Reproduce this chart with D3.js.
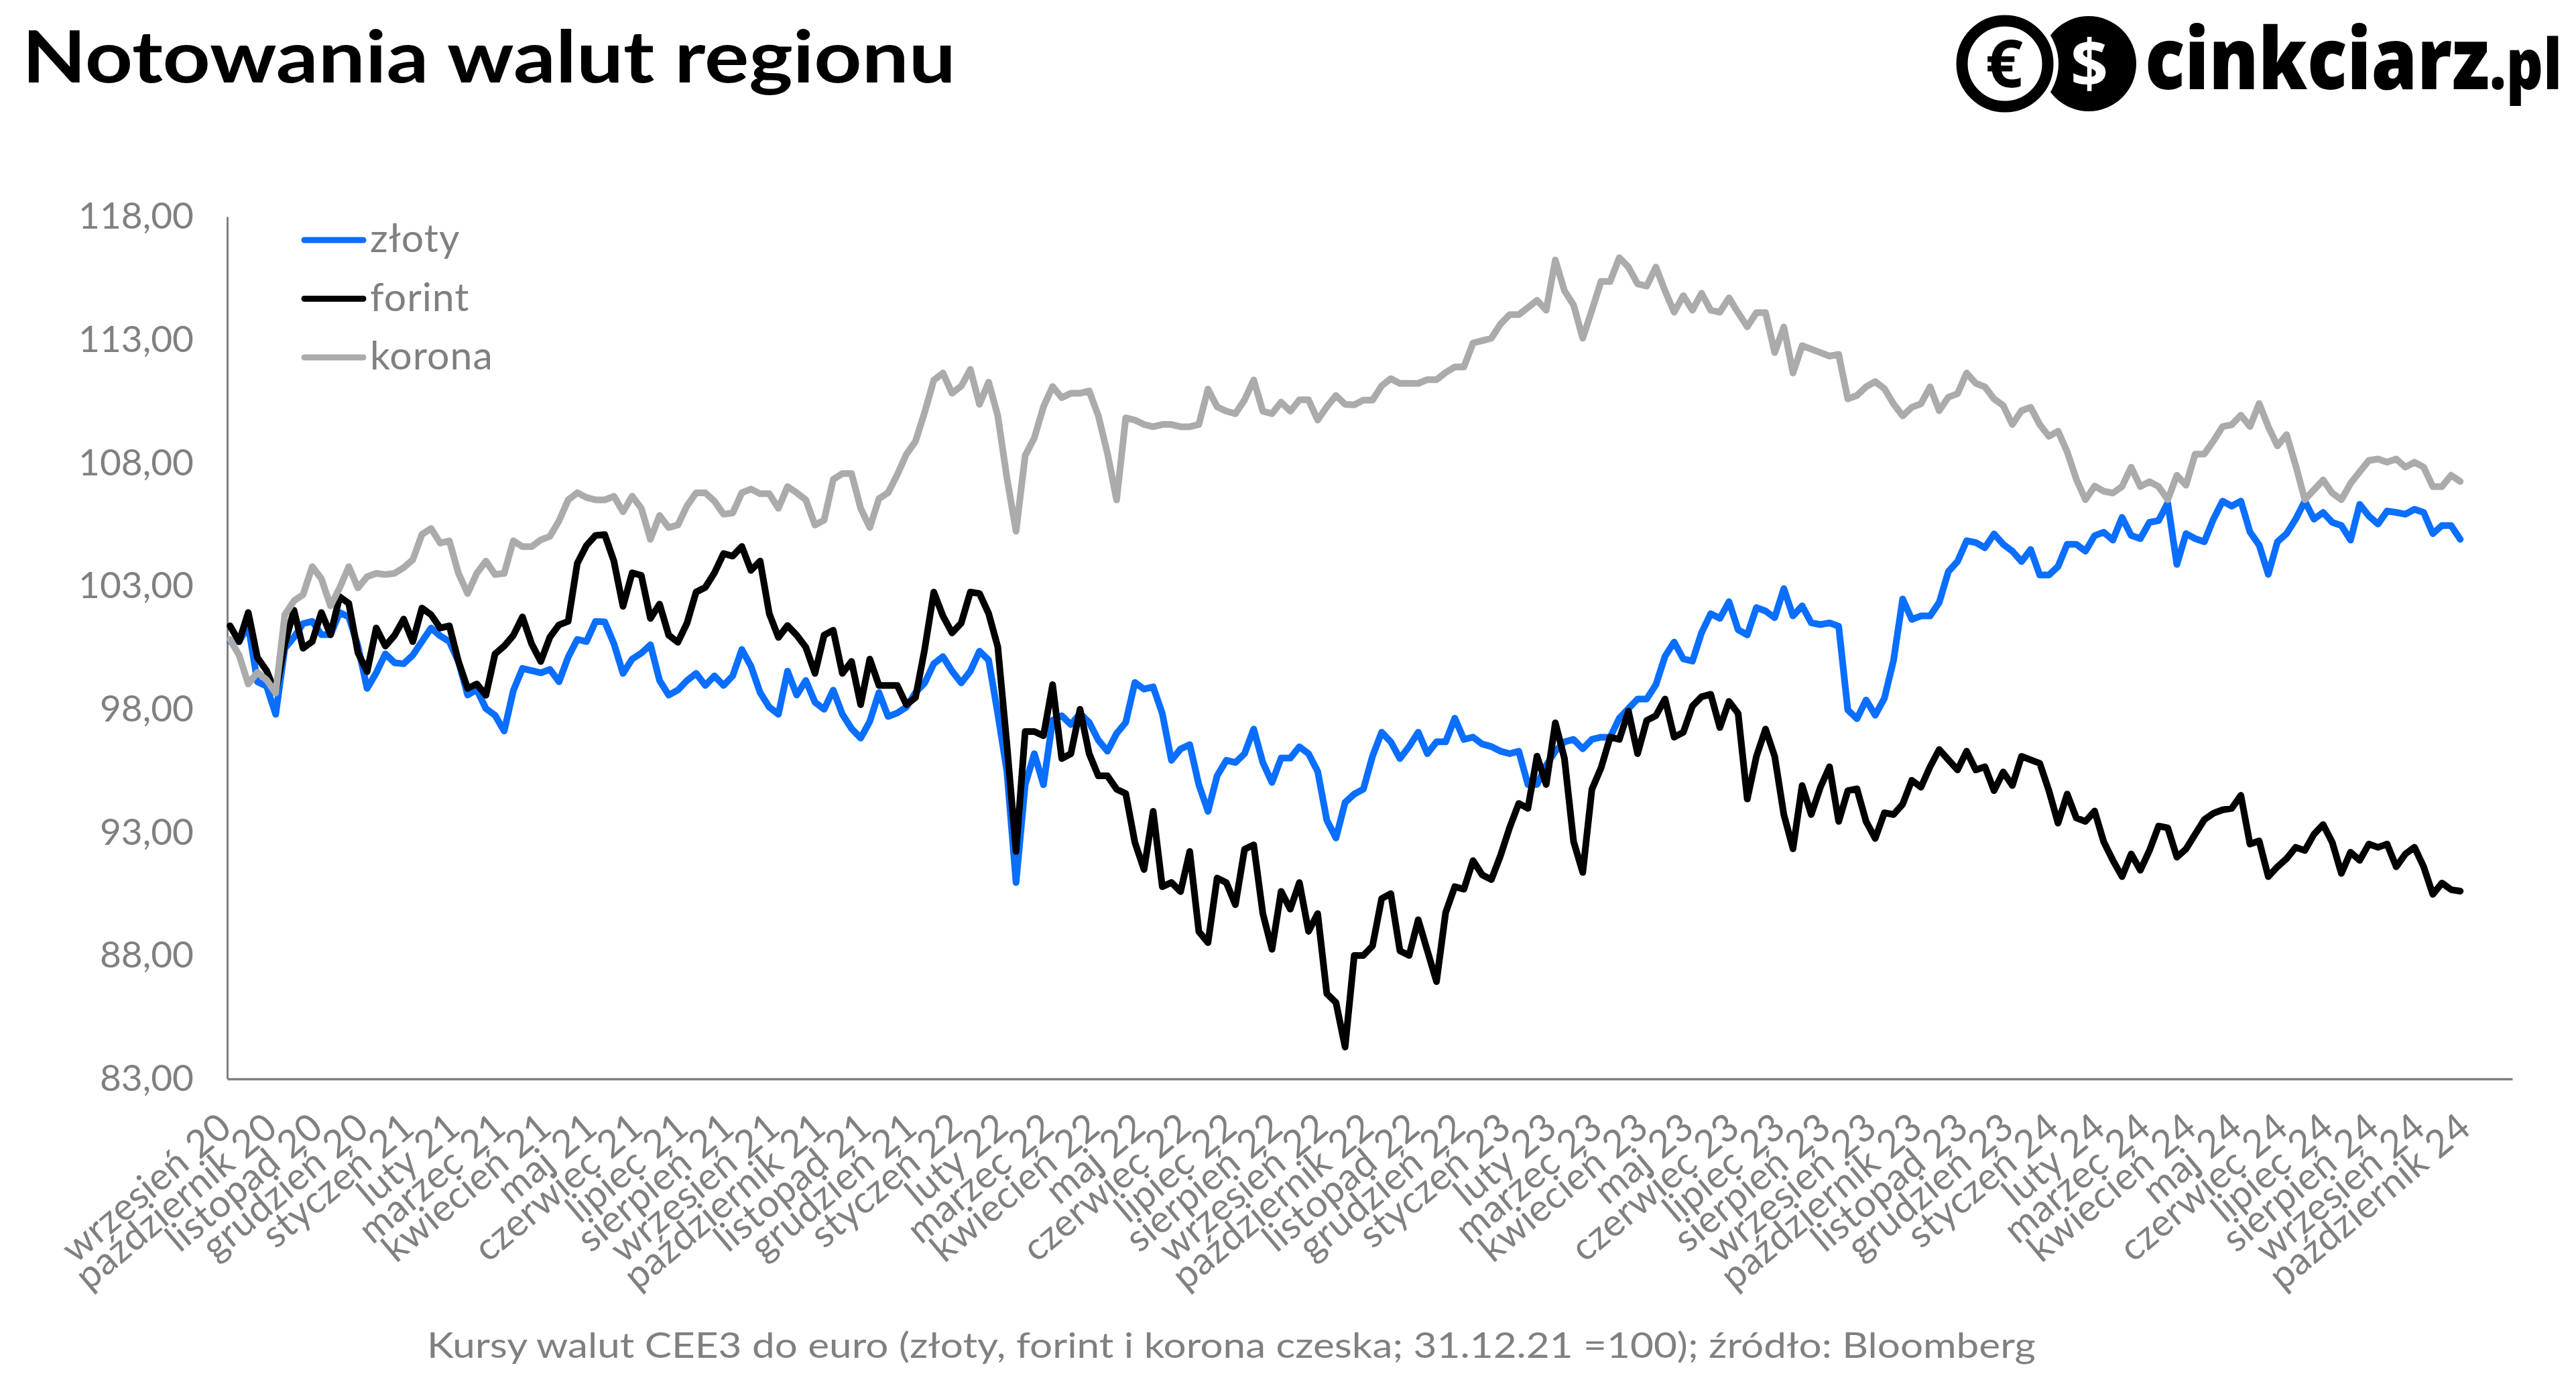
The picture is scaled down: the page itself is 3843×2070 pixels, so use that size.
<!DOCTYPE html>
<html lang="pl">
<head>
<meta charset="utf-8">
<title>Notowania walut regionu</title>
<script src="https://cdn.jsdelivr.net/npm/d3@7"></script>
<style>
  html, body { margin: 0; padding: 0; background: #fff; overflow: hidden; }
  text { font-family: Lato, sans-serif; }
</style>
</head>
<body>
<script>
const months = ['wrzesień 20','październik 20','listopad 20','grudzień 20','styczeń 21','luty 21','marzec 21','kwiecień 21','maj 21','czerwiec 21','lipiec 21','sierpień 21','wrzesień 21','październik 21','listopad 21','grudzień 21','styczeń 22','luty 22','marzec 22','kwiecień 22','maj 22','czerwiec 22','lipiec 22','sierpień 22','wrzesień 22','październik 22','listopad 22','grudzień 22','styczeń 23','luty 23','marzec 23','kwiecień 23','maj 23','czerwiec 23','lipiec 23','sierpień 23','wrzesień 23','październik 23','listopad 23','grudzień 23','styczeń 24','luty 24','marzec 24','kwiecień 24','maj 24','czerwiec 24','lipiec 24','sierpień 24','wrzesień 24','październik 24'];
const yTicks = [83, 88, 93, 98, 103, 108, 113, 118];

// five readings per month
const zloty = [
  100.75,100.75,101.39,99.12,98.94,97.8,100.48,100.93,101.48,101.57,101.03,101.03,101.93,101.75,100.57,98.85,99.48,100.25,99.89,99.85,100.2,100.75,101.3,100.98,100.75,99.94,98.58,98.8,98.03,97.76,97.12,98.76,99.66,99.57,99.48,99.62,99.12,100.12,100.84,100.75,101.57,
  101.55,100.67,99.46,100.04,100.28,100.62,99.17,98.58,98.78,99.17,99.46,98.97,99.36,98.97,99.36,100.43,99.75,98.68,98.09,97.8,99.55,98.58,99.17,98.29,98.0,98.78,97.8,97.22,96.83,97.51,98.68,97.71,97.85,98.09,98.68,99.07,99.85,100.14,99.55,99.07,99.55,
  100.36,100.0,97.83,95.48,90.97,94.94,96.2,94.94,97.56,97.74,97.38,97.83,97.47,96.75,96.3,97.02,97.47,99.09,98.82,98.91,97.83,95.93,96.39,96.57,94.94,93.86,95.3,95.93,95.84,96.2,97.2,95.84,95.03,96.02,96.02,96.48,96.2,95.48,93.5,92.78,94.22,
  94.56,94.76,96.1,97.07,96.68,96.0,96.49,97.07,96.2,96.68,96.68,97.64,96.78,96.87,96.59,96.49,96.3,96.2,96.3,94.95,94.95,95.72,96.3,96.68,96.78,96.4,96.78,96.87,96.87,97.64,98.03,98.42,98.42,99.0,100.15,100.73,100.05,99.96,101.11,101.88,101.69,102.37,
  101.23,101.02,102.13,101.99,101.72,102.9,101.79,102.2,101.51,101.44,101.51,101.37,97.97,97.62,98.38,97.76,98.45,99.98,102.48,101.65,101.79,101.79,102.34,103.59,104.0,104.84,104.77,104.56,105.12,104.7,104.42,104.0,104.49,103.45,103.45,103.8,104.7,104.7,104.42,105.05,105.19,
  104.87,105.79,105.06,104.93,105.59,105.66,106.38,103.88,105.13,104.93,104.8,105.72,106.45,106.25,106.45,105.2,104.67,103.48,104.8,105.13,105.72,106.45,105.72,105.99,105.59,105.46,104.87,106.32,105.85,105.52,106.05,105.99,105.92,106.12,105.99,105.13,105.46,105.46,104.9
];
const forint = [
  101.39,100.75,101.93,100.1,99.57,98.67,100.66,102.02,100.48,100.75,101.93,101.03,102.57,102.3,100.3,99.53,101.3,100.57,101.0,101.66,100.75,102.11,101.84,101.3,101.39,99.94,98.85,99.03,98.57,100.25,100.57,101.0,101.75,100.66,99.94,100.93,101.43,101.57,103.93,104.65,105.06,
  105.09,104.02,102.18,103.54,103.44,101.69,102.27,101.01,100.72,101.5,102.76,102.95,103.54,104.32,104.22,104.61,103.64,104.02,101.89,100.92,101.4,101.01,100.52,99.46,101.01,101.21,99.46,99.94,98.19,100.04,98.97,98.97,98.97,98.19,98.48,100.43,102.76,101.79,101.1,101.5,102.76,
  102.7,101.89,100.54,96.57,92.23,97.1,97.1,96.93,99.0,96.0,96.2,98.0,96.2,95.3,95.3,94.76,94.58,92.6,91.5,93.86,90.8,90.97,90.6,92.23,88.98,88.53,91.15,90.97,90.07,92.32,92.5,89.71,88.26,90.61,89.89,90.97,88.99,89.71,86.46,86.1,84.29,
  88.01,88.01,88.4,90.32,90.52,88.2,88.01,89.46,88.2,86.95,89.75,90.8,90.7,91.86,91.28,91.09,92.06,93.2,94.18,93.98,96.1,94.95,97.45,96.0,92.63,91.38,94.75,95.62,96.87,96.78,97.93,96.2,97.55,97.74,98.42,96.87,97.07,98.13,98.51,98.61,97.26,98.32,
  97.83,94.36,96.09,97.2,96.09,93.73,92.34,94.91,93.73,94.84,95.67,93.45,94.7,94.77,93.45,92.76,93.8,93.73,94.15,95.12,94.84,95.67,96.37,95.95,95.54,96.3,95.54,95.67,94.7,95.46,94.91,96.09,95.95,95.81,94.7,93.38,94.56,93.59,93.45,93.87,92.62,
  91.87,91.21,92.13,91.47,92.27,93.26,93.19,92.0,92.33,92.93,93.52,93.78,93.92,93.98,94.51,92.53,92.66,91.21,91.61,91.94,92.4,92.27,92.93,93.32,92.6,91.34,92.2,91.87,92.53,92.4,92.53,91.61,92.13,92.4,91.61,90.49,90.95,90.68,90.62
];
const korona = [
  100.84,100.2,99.03,99.5,99.2,98.66,101.84,102.4,102.66,103.79,103.3,102.2,102.93,103.79,102.93,103.38,103.52,103.47,103.52,103.75,104.07,105.1,105.34,104.75,104.84,103.52,102.7,103.52,104.02,103.47,103.52,104.84,104.6,104.6,104.88,105.02,105.65,106.5,106.79,106.6,106.5,
  106.5,106.65,106.02,106.65,106.16,104.9,105.87,105.38,105.48,106.26,106.79,106.79,106.45,105.92,105.97,106.79,106.94,106.75,106.75,106.16,107.04,106.79,106.5,105.48,105.68,107.33,107.57,107.57,106.16,105.38,106.55,106.79,107.52,108.35,108.88,110.05,111.36,111.65,110.83,111.12,111.8,
  110.38,111.28,109.92,107.4,105.23,108.3,109.02,110.28,111.1,110.65,110.83,110.83,110.92,109.92,108.39,106.5,109.83,109.74,109.56,109.47,109.56,109.56,109.47,109.47,109.56,111.0,110.28,110.1,110.0,110.56,111.37,110.1,110.0,110.47,110.1,110.56,110.56,109.74,110.28,110.74,110.38,
  110.36,110.55,110.55,111.13,111.42,111.23,111.23,111.23,111.38,111.38,111.67,111.9,111.9,112.87,112.96,113.06,113.64,114.02,114.02,114.31,114.6,114.2,116.24,114.99,114.41,113.06,114.2,115.37,115.37,116.33,115.95,115.27,115.18,115.95,114.99,114.12,114.79,114.2,114.89,114.2,114.12,114.7,
  114.1,113.53,114.1,114.1,112.48,113.52,111.65,112.76,112.62,112.48,112.34,112.41,110.6,110.74,111.09,111.3,111.02,110.4,109.91,110.26,110.4,111.09,110.12,110.67,110.81,111.65,111.23,111.09,110.6,110.33,109.56,110.12,110.26,109.56,109.08,109.29,108.45,107.34,106.51,107.06,106.85,
  106.78,107.04,107.83,107.04,107.24,107.04,106.51,107.5,107.1,108.36,108.36,108.89,109.48,109.55,109.94,109.48,110.41,109.48,108.69,109.15,107.9,106.51,106.91,107.31,106.78,106.51,107.17,107.64,108.1,108.16,108.03,108.16,107.83,108.03,107.83,107.04,107.04,107.5,107.25
];

const series = [
  {name: 'złoty', values: zloty, color: '#0a6eff'},
  {name: 'forint', values: forint, color: '#000000'},
  {name: 'korona', values: korona, color: '#ababab'}
];

// define plot dimensions
const width = 3843, height = 2070;
const plot = {left: 339, right: 3748, top: 323, bottom: 1609};
const grey = '#808080';

// create svg element in DOM
const svg = d3.select('body').append('svg')
    .attr('width', width)
    .attr('height', height)
    .attr('viewBox', '0 0 ' + width + ' ' + height)
    .style('display', 'block');

// stretch a text to a target width without changing its height
function fitText(sel, x, y, target) {
    const natural = sel.node().getComputedTextLength();
    sel.attr('transform', 'translate(' + x + ',' + y + ') scale(' + (target / natural) + ',1)');
}

// scales
const xBand = d3.scaleBand().domain(months).range([plot.left, plot.right]);
const xMonth = d3.scaleLinear().domain([0, months.length]).range([plot.left, plot.right]);
const y = d3.scaleLinear().domain([83, 118]).range([plot.bottom, plot.top]);

// title
svg.append('text')
    .text('Notowania walut regionu')
    .style('font-size', '107px')
    .style('font-weight', 'bold')
    .attr('fill', '#000')
    .call(fitText, 33, 123, 1393);

// axes
const yAxis = d3.axisLeft(y)
    .tickValues(yTicks)
    .tickSize(0)
    .tickPadding(50)
    .tickFormat(d => d3.format('.2f')(d).replace('.', ','));
svg.append('g')
    .attr('transform', 'translate(' + plot.left + ',0)')
    .call(yAxis)
    .call(g => g.select('.domain').attr('stroke', grey).attr('stroke-width', 3))
    .selectAll('text')
        .attr('fill', grey)
        .style('font-size', '55px');

const xAxis = d3.axisBottom(xBand).tickSize(0).tickPadding(0);
svg.append('g')
    .attr('transform', 'translate(0,' + plot.bottom + ')')
    .call(xAxis)
    .call(g => g.select('.domain').attr('stroke', grey).attr('stroke-width', 3.5))
    .selectAll('text')
        .attr('fill', grey)
        .attr('text-anchor', 'end')
        .attr('dy', 0)
        .attr('transform', 'translate(-24,78) rotate(-40)')
        .style('font-size', '57px')
        .style('letter-spacing', '0.6px');

// lines
const line = d3.line()
    .x((d, i) => xMonth((i + 0.3) / 5))
    .y(d => y(d));
svg.append('g').selectAll('path')
    .data(series)
    .join('path')
    .attr('d', d => line(d.values))
    .attr('fill', 'none')
    .attr('stroke', d => d.color)
    .attr('stroke-width', 10)
    .attr('stroke-linejoin', 'round')
    .attr('stroke-linecap', 'round');

// legend
const legend = svg.append('g').selectAll('g')
    .data(series)
    .join('g')
    .attr('transform', (d, i) => 'translate(0,' + (358 + i * 87.5) + ')');
legend.append('line')
    .attr('x1', 454).attr('x2', 542)
    .attr('stroke', d => d.color)
    .attr('stroke-width', 9)
    .attr('stroke-linecap', 'round');
legend.append('text')
    .text(d => d.name)
    .attr('x', 552)
    .attr('y', 18)
    .attr('fill', grey)
    .style('font-size', '59px')
    .style('letter-spacing', '1px');

// source note
svg.append('text')
    .text('Kursy walut CEE3 do euro (złoty, forint i korona czeska; 31.12.21 =100); źródło: Bloomberg')
    .attr('fill', grey)
    .style('font-size', '53px')
    .call(fitText, 637, 2025, 2400);

// logo
const logo = svg.append('g');
logo.append('circle').attr('cx', 3116).attr('cy', 95).attr('r', 71).attr('fill', '#000');
logo.append('circle').attr('cx', 2991).attr('cy', 95).attr('r', 80).attr('fill', '#fff');
logo.append('circle').attr('cx', 2991).attr('cy', 95).attr('r', 64).attr('fill', '#fff')
    .attr('stroke', '#000').attr('stroke-width', 17);
logo.append('text').text('€').attr('x', 2990).attr('y', 130).attr('text-anchor', 'middle')
    .attr('fill', '#000').style('font-family', '"Open Sans"').style('font-weight', 700).style('font-size', '98px');
logo.append('text').text('$').attr('x', 3117).attr('y', 130).attr('text-anchor', 'middle')
    .attr('fill', '#fff').style('font-family', '"Open Sans"').style('font-weight', 700).style('font-size', '98px');
logo.append('text').text('cinkciarz')
    .attr('fill', '#000').style('font-family', '"Open Sans"').style('font-weight', 800).style('font-size', '128px')
    .call(fitText, 3200, 133, 514);
logo.append('text').text('.pl')
    .attr('fill', '#000').style('font-family', '"Open Sans"').style('font-weight', 800).style('font-size', '104px')
    .call(fitText, 3714, 133, 108);
</script>
</body>
</html>
